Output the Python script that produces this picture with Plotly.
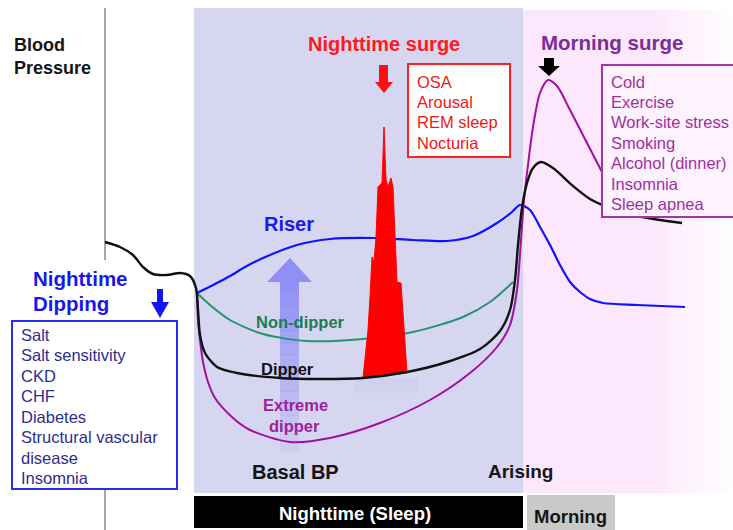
import plotly.graph_objects as go

# ---------------- data (chart units: x = time axis, y = level, drawn top-down) ----------------
dipper_x = [105, 120, 133, 143, 153, 167, 180, 190, 196, 198, 200, 205, 217, 237, 280, 320, 363, 407,
            447, 480, 500, 510, 515, 518, 522, 527, 533, 541, 553, 573, 590, 610, 637, 660, 682]
dipper_y = [242, 247, 255, 267, 274, 275, 273, 276, 288, 310, 335, 353, 367, 373, 378, 379, 378, 372,
            362, 349, 331, 310, 280, 245, 208, 183, 168, 162, 168, 186, 199, 208, 216, 220, 223]

riser_x = [197, 215, 230, 245, 263, 297, 330, 373, 413, 447, 473, 497, 512, 520, 530, 540, 550, 560,
           570, 580, 590, 603, 637, 685]
riser_y = [293, 284, 276, 267, 258, 245, 239, 238, 240, 241, 236, 223, 212, 205, 210, 227, 245, 265,
           282, 292, 299, 303, 305, 307]

nondipper_x = [197, 210, 230, 263, 307, 363, 413, 463, 490, 513]
nondipper_y = [293, 305, 320, 334, 341, 339, 332, 317, 302, 282]

extreme_x = [197, 198, 200, 203, 208, 215, 233, 250, 290, 330, 380, 430, 470, 497, 510, 517, 521, 524,
             528, 533, 540, 548, 557, 570, 587, 602]
extreme_y = [293, 320, 340, 362, 382, 398, 418, 430, 442, 438, 423, 400, 373, 347, 325, 290, 240, 200,
             165, 127, 93, 80, 86, 110, 143, 172]

surge_x = [363, 368, 370, 372, 374, 376, 378, 382, 384, 386, 388, 391, 393, 395, 397, 401, 407, 363]
surge_y = [378, 330, 297, 257, 262, 237, 187, 183, 127, 180, 187, 178, 187, 243, 282, 283, 373, 378]

dipping_causes = ["Salt", "Salt sensitivity", "CKD", "CHF", "Diabetes", "Structural vascular",
                  "disease", "Insomnia"]
surge_causes = ["OSA", "Arousal", "REM sleep", "Nocturia"]
morning_causes = ["Cold", "Exercise", "Work-site stress", "Smoking", "Alcohol (dinner)", "Insomnia",
                  "Sleep apnea"]

FONT = "Liberation Sans, Arial, Helvetica, sans-serif"

fig = go.Figure()

shapes = []
# nighttime background
shapes.append(dict(type="rect", x0=194, x1=523, y0=8, y1=493, fillcolor="#d6d6f1",
                   line_width=0, layer="below"))
# morning pink gradient
pink = (252, 231, 252)
white = (255, 255, 255)
step = 5
x = 523
while x < 735:
    xc = x + step / 2
    t = min(1.0, max(0.0, (xc - 650) / (735 - 650)))
    c = tuple(int(round(pink[i] * (1 - t) + white[i] * t)) for i in range(3))
    shapes.append(dict(type="rect", x0=x, x1=x + step + 0.5, y0=10, y1=493,
                       fillcolor="rgb(%d,%d,%d)" % c, line_width=0, layer="below"))
    x += step
# axis line
shapes.append(dict(type="line", x0=105, x1=105, y0=8, y1=260, line=dict(color="#8a8a8a", width=1.5),
                   layer="below"))
shapes.append(dict(type="line", x0=105, x1=105, y0=489, y1=530, line=dict(color="#8a8a8a", width=1.5),
                   layer="below"))
# faint shadow under the surge
shapes.append(dict(type="rect", x0=355, x1=418, y0=378, y1=393, fillcolor="rgba(200,206,238,0.6)",
                   line_width=0, layer="below"))
# faded blue arrow (riser direction)
n = 14
top, bot = 282, 452
for i in range(n):
    y0 = top + (bot - top) * i / n
    y1 = top + (bot - top) * (i + 1) / n
    op = 0.85 * (1 - i / n) + 0.03
    shapes.append(dict(type="rect", x0=280, x1=299, y0=y0, y1=y1 + 0.5,
                       fillcolor="rgba(135,135,245,%.3f)" % op, line_width=0, layer="below"))
shapes.append(dict(type="path", path="M 267,282 L 312,282 L 290,258 Z",
                   fillcolor="rgba(135,135,245,0.9)", line_width=0, layer="below"))

# boxes
shapes.append(dict(type="rect", x0=12, x1=177, y0=321, y1=489, fillcolor="white",
                   line=dict(color="#2a2af0", width=2), layer="above"))
shapes.append(dict(type="rect", x0=408, x1=510, y0=64, y1=157, fillcolor="white",
                   line=dict(color="#ff2020", width=2), layer="above"))
shapes.append(dict(type="rect", x0=602, x1=745, y0=65, y1=217, fillcolor="#fdf2fd",
                   line=dict(color="#a435a4", width=2), layer="above"))
# arrows
shapes.append(dict(type="path", path="M 157,289 L 163,289 L 163,302 L 169,302 L 160,318 L 151,302 L 157,302 Z",
                   fillcolor="#1515f0", line_width=0, layer="above"))
shapes.append(dict(type="path", path="M 379,65 L 388,65 L 388,82 L 393,82 L 384,93 L 375,82 L 379,82 Z",
                   fillcolor="#ff1010", line_width=0, layer="above"))
shapes.append(dict(type="path", path="M 544,58 L 554,58 L 554,66 L 560,66 L 549,76 L 538,66 L 544,66 Z",
                   fillcolor="#000000", line_width=0, layer="above"))
# time bars
shapes.append(dict(type="rect", x0=194, x1=523, y0=496, y1=528, fillcolor="#000000", line_width=0,
                   layer="above"))
shapes.append(dict(type="rect", x0=527, x1=615, y0=495, y1=531, fillcolor="#c9c9c9", line_width=0,
                   layer="above"))

# traces
fig.add_trace(go.Scatter(x=nondipper_x, y=nondipper_y, mode="lines",
                         line=dict(color="#23946b", width=2, shape="spline", smoothing=0.8),
                         hoverinfo="skip"))
fig.add_trace(go.Scatter(x=riser_x, y=riser_y, mode="lines",
                         line=dict(color="#1212ff", width=2.2, shape="spline", smoothing=0.8),
                         hoverinfo="skip"))
fig.add_trace(go.Scatter(x=extreme_x, y=extreme_y, mode="lines",
                         line=dict(color="#a010a0", width=2, shape="spline", smoothing=0.8),
                         hoverinfo="skip"))
fig.add_trace(go.Scatter(x=surge_x, y=surge_y, mode="lines", fill="toself", fillcolor="#ff0000",
                         line=dict(color="#ff0000", width=1), hoverinfo="skip"))
fig.add_trace(go.Scatter(x=dipper_x, y=dipper_y, mode="lines",
                         line=dict(color="#111111", width=2.4, shape="spline", smoothing=0.8),
                         hoverinfo="skip"))

ann = []
DY = -1.5


def txt(x, y, s, size, color, bold=False, xanchor="center"):
    ann.append(dict(x=x, y=y + DY, xref="x", yref="y", text="<b>%s</b>" % s if bold else s,
                    showarrow=False, xanchor=xanchor, yanchor="middle",
                    font=dict(family=FONT, size=size, color=color)))


txt(12, 46, "Blood", 18, "#151515", True, "left")
txt(12, 69, "Pressure", 18, "#151515", True, "left")
txt(31, 280, "Nighttime", 20.5, "#1717ee", True, "left")
txt(31, 305, "Dipping", 20.5, "#1717ee", True, "left")
txt(384, 45, "Nighttime surge", 20, "#ff1a1a", True)
txt(612, 44, "Morning surge", 20.5, "#7c2c98", True)
txt(289, 225, "Riser", 20, "#1c1ce0", True)
txt(300, 323, "Non-dipper", 16.5, "#1d7a55", True)
txt(287, 370, "Dipper", 16.5, "#111111", True)
txt(295, 406, "Extreme", 16.5, "#a0209a", True)
txt(294, 427, "dipper", 16.5, "#a0209a", True)
txt(295, 473, "Basal BP", 20, "#151515", True)
txt(520, 473, "Arising", 19, "#151515", True)
txt(355, 514.5, "Nighttime (Sleep)", 18.5, "#ffffff", True)
txt(570, 518, "Morning", 18.5, "#151515", True)

for i, s in enumerate(dipping_causes):
    txt(19, 336 + i * 20.5, s, 16.5, "#2d2d8e", False, "left")
for i, s in enumerate(surge_causes):
    txt(415, 83 + i * 20.4, s, 16.5, "#f01818", False, "left")
for i, s in enumerate(morning_causes):
    txt(609, 83 + i * 20.4, s, 16.5, "#a030a0", False, "left")

fig.update_layout(
    width=733, height=530,
    margin=dict(l=0, r=0, t=0, b=0),
    paper_bgcolor="white", plot_bgcolor="white",
    showlegend=False,
    shapes=shapes, annotations=ann,
    xaxis=dict(range=[0, 733], visible=False, fixedrange=True),
    yaxis=dict(range=[530, 0], visible=False, fixedrange=True),
)

fig.write_html("out.html", config=dict(displayModeBar=False),
               post_script="document.body.style.margin='0';document.body.style.overflow='hidden';")
